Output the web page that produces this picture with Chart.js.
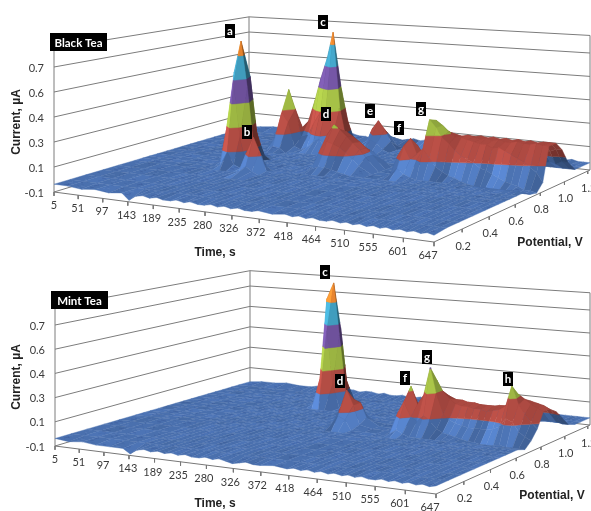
<!DOCTYPE html>
<html>
<head>
<meta charset="utf-8">
<title>Black and mint tea</title>
<script src="https://cdn.jsdelivr.net/npm/chart.js@4/dist/chart.umd.min.js"></script>
<style>
	html, body { margin: 0; background: #fff; }
	canvas { position: absolute; left: 0; }
</style>
</head>
<body>
<canvas id="black" width="591" height="262" style="top:0"></canvas>
<canvas id="mint" width="591" height="258" style="top:253px"></canvas>
<script>
const timeTicks = [5, 51, 97, 143, 189, 235, 280, 326, 372, 418, 464, 510, 555, 601, 647]
const potentialTicks = [0.2, 0.4, 0.6, 0.8, 1.0, 1.2]
const currentTicks = ['-0.1', '0.1', '0.3', '0.4', '0.6', '0.7']

// sampled columns and rows of the surface
const times = [5, 31, 57, 82, 108, 132, 145, 157, 170, 182, 195, 206, 219, 230, 243, 254, 267, 278, 290, 301, 313, 324, 336, 347, 359, 370, 393, 415, 426, 437, 448, 459, 470, 481, 491, 503, 513, 523, 534, 544, 555, 565, 575, 585, 596, 606, 617, 627, 637, 647]
const potentials = [0, 0.09, 0.18, 0.28, 0.37, 0.47, 0.52, 0.56, 0.61, 0.67, 0.72, 0.77, 0.82, 0.87, 0.93, 0.98, 1.03, 1.09, 1.14, 1.22]
const flat = -0.05

const blackFront = [-.05, -.05, -.06, -.05, -.06, -.05, -.09, -.06, -.05, -.06, -.05, -.06, -.06, -.05, -.06, -.05, -.06, -.06, -.05, -.06, -.05, -.06, -.05, -.06, -.06, -.05, -.06, -.05, -.06, -.05, -.06, -.05, -.06, -.06, -.05, -.06, -.05, -.06, -.05, -.06, -.05, -.06, -.05, -.06, -.05, -.06, -.05, -.06, -.05, -.06]
const blackBack = [-.05, -.04, -.03, -.03, -.04, -.03, -.03, -.02, -.03, -.03, -.04, -.03, -.02, -.03, -.03, -.04, -.02, -.01, -.02, -.02, -.03, -.02, -.01, -.02, -.01, -.02, -.03, -.04, -.04, -.04, -.04, -.05, -.05, -.05, -.05, -.05, -.05, -.05, -.05, -.05, -.04, -.05, -.05, -.05, -.05, -.05, -.04, -.05, -.05, -.05]
const mintFront = [-.05, -.06, -.05, -.06, -.06, -.06, -.09, -.06, -.05, -.06, -.05, -.06, -.05, -.06, -.05, -.06, -.06, -.05, -.06, -.05, -.06, -.07, -.06, -.05, -.06, -.06, -.05, -.06, -.05, -.06, -.05, -.06, -.05, -.06, -.05, -.06, -.05, -.06, -.05, -.06, -.06, -.05, -.06, -.05, -.06, -.05, -.06, -.05, -.06, -.05]
const mintBack = [-.05, -.04, -.04, -.03, -.04, -.04, -.03, -.03, -.03, -.04, -.03, -.03, -.03, -.04, -.03, -.03, -.04, -.03, -.04, -.04, -.03, -.04, -.04, -.03, -.04, -.04, -.04, -.04, -.05, -.04, -.05, -.05, -.05, -.05, -.05, -.05, -.05, -.05, -.05, -.05, -.05, -.05, -.05, -.05, -.05, -.05, -.05, -.05, -.05, -.05]

// raised parts: first column, first row, then values front to back
const blackA = [6, 6, [
	[-.05, -.03, .06, -.02, -.05],
	[-.03, .20, .52, .15, -.04],
	[.10, .58, .80, .48, .05],
	[-.03, .22, .54, .16, -.04],
	[-.05, -.03, .08, -.02, -.05]]]
const blackB = [10, 5, [
	[-.05, -.04, .0, -.03, -.05],
	[-.04, .07, .18, .09, -.04],
	[-.05, -.03, .04, -.02, -.05]]]
const blackSide = [6, 13, [
	[-.05, -.02, -.03, -.06],
	[.02, .20, .14, -.03],
	[.09, .36, .22, .02],
	[-.03, .16, .07, -.05]]]
const blackC = [8, 14, [
	[-.05, -.05, -.05, -.03, .02, .04, -.03, -.06],
	[-.05, -.02, .04, .13, .22, .26, .06, -.05],
	[.04, .12, .28, .44, .60, .79, .24, .04],
	[-.05, -.02, .03, .09, .15, .36, .12, -.03],
	[-.06, -.06, -.05, -.05, -.02, -.02, -.04, -.06]]]
const blackD = [18, 8, [
	[-.05, -.03, -.01, -.01, -.02, -.03, -.04, -.05],
	[-.03, .08, .14, .13, .11, .08, .04, .0],
	[.0, .17, .24, .21, .17, .13, .09, .04],
	[-.03, .10, .19, .18, .15, .12, .08, .04],
	[-.05, -.02, .04, .07, .07, .06, .04, .0]]]
const blackE = [17, 16, [
	[-.05, -.03, .03, .01, -.03],
	[-.02, .09, .15, .09, .01],
	[-.05, -.03, .03, .02, -.04]]]
const blackF = [27, 9, [
	[-.05, -.03, .01, -.02, -.04],
	[-.05, .07, .14, .06, -.02],
	[-.05, .13, .18, .08, .0],
	[-.05, .05, .12, .06, .0],
	[-.06, -.04, -.02, -.02, -.02]]]
const blackG = [30, 10, [
	[-.03, .06, .14, .08, .03, .0, -.02, -.03, -.05, -.06, -.07, -.08, -.07, -.08, -.08, -.08, -.07, -.08, -.08, -.08],
	[-.02, .12, .32, .27, .21, .17, .13, .10, .08, .06, .03, .02, .0, -.02, -.04, -.05, -.06, -.08, -.08, -.09],
	[-.01, .10, .30, .27, .23, .20, .20, .19, .18, .17, .17, .15, .16, .14, .12, .10, .08, .05, .02, -.04],
	[-.01, .08, .21, .21, .20, .19, .20, .19, .18, .19, .18, .19, .18, .18, .19, .18, .18, .19, .18, .18],
	[-.02, .04, .13, .15, .16, .17, .17, .18, .17, .18, .17, .18, .17, .18, .17, .18, .17, .18, .18, .18],
	[-.03, .0, .06, .08, .09, .10, .11, .10, .11, .10, .11, .10, .11, .10, .11, .10, .11, .10, .12, .12],
	[-.04, -.03, -.01, .0, .0, .0, .0, .01, .0, .01, .0, .01, .0, .0, .0, .0, .01, .0, .02, .02]]]

const mintC = [12, 14, [
	[-.03, .15, .50, .12, -.05],
	[.07, .72, .84, .46, .02],
	[-.03, .10, .50, .12, -.05]]]
const mintD = [21, 8, [
	[-.05, -.02, .04, .02, -.05],
	[-.04, .07, .20, .10, -.03],
	[-.05, .02, .12, .10, .0],
	[-.06, -.04, -.02, -.01, -.04]]]
const mintF = [28, 8, [
	[-.06, -.04, -.01, -.03, -.05],
	[-.05, .08, .15, .06, -.03],
	[-.03, .15, .25, .13, .0],
	[-.05, .05, .12, .06, .0]]]
const mintG = [31, 9, [
	[-.02, .04, .08, .05, .0, -.02, -.03, -.04, -.05, -.06, -.06, -.07, -.07, -.07, -.06, -.07, -.07, -.07, -.07],
	[.01, .20, .39, .22, .08, .05, .03, .02, .01, .01, .01, .01, .02, .04, .10, .08, .02, -.01, -.03],
	[.02, .16, .29, .22, .17, .14, .13, .13, .12, .12, .11, .12, .13, .16, .30, .18, .12, .07, .03],
	[.0, .08, .16, .17, .15, .15, .14, .14, .13, .13, .13, .14, .14, .17, .23, .20, .17, .15, .13],
	[-.02, .03, .09, .11, .11, .11, .11, .11, .11, .11, .11, .12, .12, .14, .17, .17, .16, .15, .13],
	[-.04, -.01, .03, .05, .05, .06, .06, .06, .06, .06, .06, .07, .07, .09, .11, .12, .11, .10, .09],
	[-.05, -.03, -.02, -.01, -.01, .0, .0, .0, .0, .0, .0, .01, .01, .02, .04, .05, .05, .04, .03],
	[-.06, -.05, -.04, -.04, -.04, -.04, -.03, -.03, -.03, -.03, -.03, -.03, -.03, -.03, -.02, -.02, -.02, -.03, -.03]]]

const bandTops = [0.06, 0.22, 0.38, 0.54, 0.70, 9]
const bandColors = [[74, 112, 174], [168, 72, 64], [150, 174, 64], [106, 78, 150], [62, 152, 184], [224, 128, 44]]
const texture = [.03, -.04, .06, -.02, -.06, .04, 0, -.05, .07, -.03, .02, -.07, .05]

const blackGeo = {
	x: [54, 434, 590, 249], y: [192, 242, 170, 133], h: [25, 27, 23.4, 20.2], labelX: 44,
	title: 'Black Tea', titleBox: [50, 33, 57, 18], timeY: 253, potentialX: 550, currentY: 122,
	tags: [['a', 230, 31], ['b', 247, 132], ['c', 323, 22], ['d', 326, 114], ['e', 370, 111], ['f', 399, 128], ['g', 421, 109]]
}
const mintGeo = {
	x: [55, 436, 590, 250], y: [193, 241, 172, 135], h: [24.2, 26, 23, 20.4], labelX: 45,
	title: 'Mint Tea', titleBox: [51, 38, 57, 18], timeY: 251, potentialX: 552, currentY: 124,
	tags: [['c', 325, 19], ['d', 340, 128], ['f', 405, 125], ['g', 427, 104], ['h', 508, 126]]
}

function warp(a, k) {
	return a / (a + k * (1 - a))
}

function project(geo, t, p, z) {
	const u = warp((t - 5) / 642, 1.136)
	const v = warp(p / 1.22, 0.89)
	const mix = c => c[0] * (1 - u) * (1 - v) + c[1] * u * (1 - v) + c[2] * u * v + c[3] * (1 - u) * v
	return { x: mix(geo.x), y: mix(geo.y) - mix(geo.h) * (z + 0.1) / 0.16 }
}

function buildTable(front, back, patches) {
	const table = potentials.map((p, j) => times.map((t, i) => j == 0 ? front[i] : j == potentials.length - 1 ? back[i] : flat))
	patches.forEach(([col, row, rows]) => {
		rows.forEach((vals, j) => vals.forEach((z, i) => {
			const old = table[row + j][col + i]
			table[row + j][col + i] = old == flat ? z : Math.max(old, z)
		}))
	})
	return table
}

// cut a cell to the part that lies between two heights
function clipCell(cell, lo, hi) {
	let out = []
	cell.forEach((a, n) => {
		const b = cell[(n + 1) % cell.length]
		const cuts = []
		if (a.z >= lo && a.z <= hi) cuts.push(a)
		;[lo, hi].forEach(l => {
			if ((a.z - l) * (b.z - l) < 0) {
				const f = (l - a.z) / (b.z - a.z)
				cuts.push({ t: a.t + (b.t - a.t) * f, p: a.p + (b.p - a.p) * f, z: l, f: f })
			}
		})
		cuts.sort((m, n2) => (m.f || 0) - (n2.f || 0))
		out = out.concat(cuts)
	})
	return out
}

function shadeColor(rgb, f) {
	return 'rgb(' + rgb.map(c => Math.min(255, Math.round(c * f))).join(',') + ')'
}

// mottled fill for the flat floor, one per brightness step
const grains = {}
function grainFill(f) {
	const step = Math.round(f * 25)
	if (grains[step]) return grains[step]
	const tile = document.createElement('canvas')
	tile.width = 73
	tile.height = 47
	const c = tile.getContext('2d')
	c.fillStyle = shadeColor(bandColors[0], step / 25)
	c.fillRect(0, 0, 73, 47)
	for (let n = 0; n < 170; n++) {
		const x = (n * 37) % 73
		const y = (n * 29) % 47
		c.strokeStyle = n % 3 == 0 ? 'rgba(140,170,220,0.16)' : n % 3 == 1 ? 'rgba(30,50,110,0.17)' : 'rgba(50,80,140,0.14)'
		c.beginPath()
		c.moveTo(x, y)
		c.lineTo(x + 2 + n % 4, y + (n % 5 == 0 ? -1 : 1))
		c.stroke()
	}
	grains[step] = c.createPattern(tile, 'repeat')
	return grains[step]
}

function surfaceSets(geo, table) {
	const sets = []
	for (let i = 0; i < times.length - 1; i++) {
		for (let j = potentials.length - 2; j >= 0; j--) {
			const a = table[j][i], b = table[j][i + 1], c = table[j + 1][i + 1], d = table[j + 1][i]
			const cell = [
				{ t: times[i], p: potentials[j], z: a }, { t: times[i + 1], p: potentials[j], z: b },
				{ t: times[i + 1], p: potentials[j + 1], z: c }, { t: times[i], p: potentials[j + 1], z: d }]
			const dp = (c + d - a - b) / 2
			const dt = (b + c - a - d) / 2
			const steep = Math.abs(dp) > 0.03 || Math.abs(dt) > 0.03
			let lo = -9
			bandTops.forEach((hi, n) => {
				const poly = clipCell(cell, lo, hi)
				lo = hi
				if (poly.length < 3) return
				let f = 1 + (steep ? texture[(i * 7) % 13] * (n == 0 ? 2.2 : 0.9) : texture[(i * 5 + j * 3) % 13] * 0.35)
				f += Math.max(-0.26, Math.min(0.16, dp > 0 ? dp * 0.6 : dp * 2.5))
				f += Math.max(-0.08, Math.min(0.08, dt * 0.25))
				const pts = poly.map(q => project(geo, q.t, q.p, q.z))
				pts.push(pts[0])
				const col = shadeColor(bandColors[n], f)
				const fillWith = n == 0 && !steep ? grainFill(f) : col
				sets.push({ data: pts, showLine: true, fill: 'shape', backgroundColor: fillWith, borderColor: col, borderWidth: 0.4, pointRadius: 0 })
			})
		}
	}
	return sets
}

function lineSet(pts, color) {
	return { data: pts, showLine: true, fill: false, borderColor: color, borderWidth: 1, pointRadius: 0 }
}

function frameSets(geo) {
	const sets = []
	const top = 0.82
	const pEnd = potentials[potentials.length - 1]
	const levels = currentTicks.map((l, n) => -0.1 + 0.16 * n).concat(top)
	levels.forEach(z => {
		sets.push(lineSet([project(geo, 5, 0, z), project(geo, 5, pEnd, z), project(geo, 647, pEnd, z)], '#7c7c7c'))
	})
	sets.push(lineSet([project(geo, 5, 0, -0.1), project(geo, 5, 0, top)], '#7c7c7c'))
	sets.push(lineSet([project(geo, 5, pEnd, -0.1), project(geo, 5, pEnd, top)], '#7c7c7c'))
	sets.push(lineSet([project(geo, 647, pEnd, -0.1), project(geo, 647, pEnd, top)], '#7c7c7c'))
	return sets
}

function axisSets(geo) {
	const sets = []
	const pEnd = potentials[potentials.length - 1]
	sets.push(lineSet([project(geo, 5, 0, -0.1), project(geo, 647, 0, -0.1), project(geo, 647, pEnd, -0.1)], '#777'))
	timeTicks.forEach(t => sets.push(lineSet([project(geo, t, 0, -0.1), project(geo, t, 0, -0.125)], '#777')))
	potentialTicks.forEach(p => sets.push(lineSet([project(geo, 647, p, -0.1), project(geo, 647, p, -0.12)], '#777')))
	return sets
}

function drawTexts(chart, geo) {
	const ctx = chart.ctx
	ctx.save()
	ctx.textBaseline = 'middle'
	ctx.fillStyle = '#3a3a3a'
	ctx.font = '11px Lato'
	ctx.textAlign = 'center'
	timeTicks.forEach((t, n) => {
		const q = project(geo, t, 0, -0.1)
		ctx.fillText(String(t), q.x - 6 * n / 14, q.y + 13.5)
	})
	potentialTicks.forEach(p => {
		const q = project(geo, 647, p, -0.1)
		ctx.fillText(p.toFixed(1), q.x + 1, q.y + 17)
	})
	ctx.textAlign = 'right'
	currentTicks.forEach((label, n) => {
		const q = project(geo, 5, 0, -0.1 + 0.16 * n)
		ctx.fillText(label, geo.labelX, q.y + 1)
	})

	ctx.fillStyle = '#222'
	ctx.font = 'bold 12px "Liberation Sans"'
	ctx.textAlign = 'center'
	ctx.fillText('Time, s', 215, geo.timeY)
	ctx.fillText('Potential, V', geo.potentialX, 243)
	ctx.save()
	ctx.translate(17, geo.currentY)
	ctx.rotate(-Math.PI / 2)
	ctx.fillText('Current, µA', 0, 0)
	ctx.restore()

	const box = geo.titleBox
	ctx.fillStyle = '#000'
	ctx.fillRect(box[0], box[1], box[2], box[3])
	ctx.fillStyle = '#fff'
	ctx.font = 'bold 11.5px Lato'
	ctx.fillText(geo.title, box[0] + box[2] / 2, box[1] + box[3] / 2 + 1)

	ctx.font = 'bold 11.5px Lato'
	geo.tags.forEach(([letter, x, y]) => {
		ctx.fillStyle = '#000'
		ctx.fillRect(x - 5, y - 7, 10, 14)
		ctx.fillStyle = '#fff'
		ctx.fillText(letter, x, y)
	})
	ctx.restore()
}

function drawPanel(id, geo, table) {
	const canvas = document.getElementById(id)
	const painted = frameSets(geo).concat(surfaceSets(geo, table), axisSets(geo))
	new Chart(canvas.getContext('2d'), {
		type: 'scatter',
		data: { datasets: painted.reverse() },
		options: {
			responsive: false,
			animation: false,
			parsing: false,
			events: [],
			layout: { padding: 0 },
			plugins: { legend: { display: false }, tooltip: { enabled: false } },
			scales: {
				x: { type: 'linear', display: false, min: 0, max: canvas.width },
				y: { type: 'linear', display: false, min: 0, max: canvas.height, reverse: true }
			}
		},
		plugins: [{ id: 'panelText', afterDraw: chart => drawTexts(chart, geo) }]
	})
}

drawPanel('black', blackGeo, buildTable(blackFront, blackBack, [blackA, blackB, blackSide, blackC, blackD, blackE, blackF, blackG]))
drawPanel('mint', mintGeo, buildTable(mintFront, mintBack, [mintC, mintD, mintF, mintG]))
</script>
</body>
</html>
